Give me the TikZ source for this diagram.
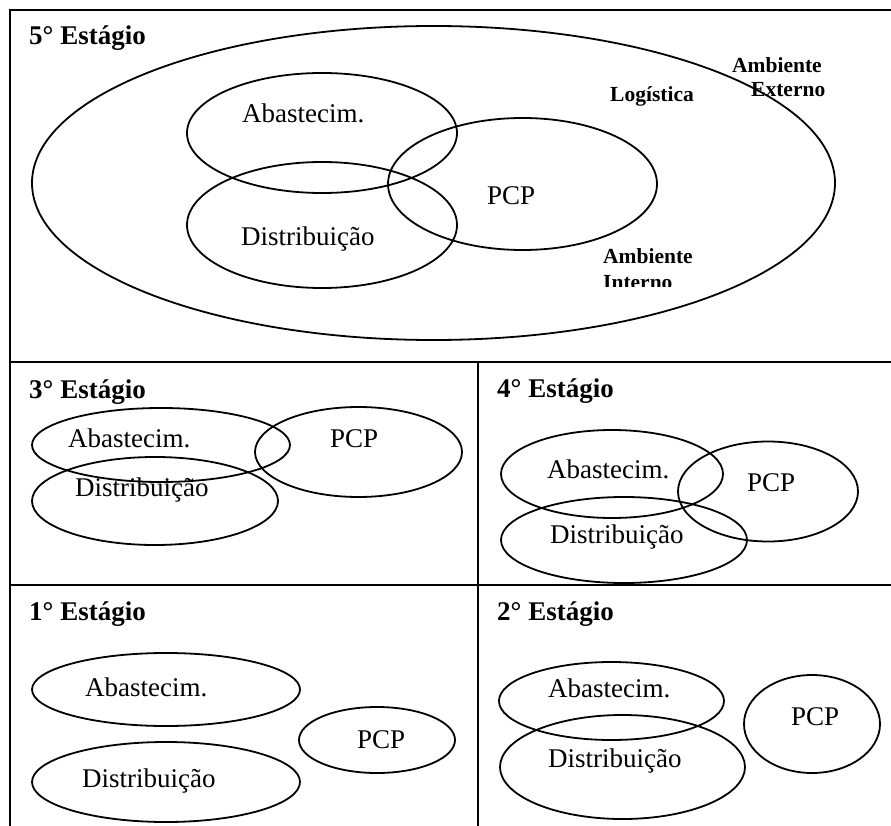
\documentclass[tikz,border=0pt]{standalone}
\usepackage{fontspec}
\setmainfont{Liberation Serif}
\usetikzlibrary{shapes.geometric}
\tikzset{
  ell/.style={ellipse, draw, line width=1.8pt, inner sep=0pt, outer sep=0pt},
  txt/.style={anchor=base west, inner sep=0pt, font=\fontsize{27}{30}\selectfont},
  head/.style={anchor=base west, inner sep=0pt, font=\fontsize{27}{30}\selectfont\bfseries},
  lab/.style={anchor=base west, inner sep=0pt, font=\fontsize{21.5}{24}\selectfont\bfseries},
  frame/.style={line width=2pt}
}
\newcommand{\ellnode}[5]{\node[ell, minimum width=#4pt, minimum height=#5pt] (#1) at (#2,#3) {};}
\begin{document}
\begin{tikzpicture}[x=1pt,y=-1pt]
\useasboundingbox (0,0) rectangle (891,826);
% frame
\coordinate (tl) at (10,10);
\coordinate (tr) at (891,10);
\coordinate (bl) at (10,826);
\coordinate (m1l) at (10,362);
\coordinate (m1r) at (891,362);
\coordinate (m2l) at (10,585);
\coordinate (m2r) at (891,585);
\coordinate (vt) at (478,362);
\coordinate (vb) at (478,826);
\draw[frame] (tr) -- (tl) -- (bl);
\draw[frame] (m1l) -- (m1r);
\draw[frame] (m2l) -- (m2r);
\draw[frame] (vt) -- (vb);

% ---- 5th stage
\node[head] (h5) at (29,45) {5° Estágio};
\ellnode{outer}{433.5}{183}{803}{314}
\ellnode{abs5}{322}{133}{270}{120}
\ellnode{dis5}{322}{225}{270}{126}
\ellnode{pcp5}{522.5}{184}{269}{132}
\node[txt] (tabs5) at (242,123) {Abastecim.};
\node[txt] (tdis5) at (241,246) {Distribuição};
\node[txt] (tpcp5) at (487,205) {PCP};
\node[lab] (log) at (610,102) {Logística};
\node[lab] (ae1) at (732,73) {Ambiente};
\node[lab] (ae2) at (751,97) {Externo};
\node[lab] (ai1) at (603,264) {Ambiente};
\begin{scope}
\clip (0,0) rectangle (891,286);
\node[lab] (ai2) at (603,289) {Interno};
\end{scope}

% ---- 3rd stage
\node[head] (h3) at (29,398) {3° Estágio};
\ellnode{abs3}{161}{445}{258}{74}
\ellnode{pcp3}{358.5}{452}{207}{90}
\ellnode{dis3}{155}{501}{246}{88}
\node[txt] (tabs3) at (68,447) {Abastecim.};
\node[txt] (tpcp3) at (330,447) {PCP};
\node[txt] (tdis3) at (75,496) {Distribuição};

% ---- 4th stage
\node[head] (h4) at (497,397) {4° Estágio};
\ellnode{abs4}{612}{474}{222}{88}
\ellnode{dis4}{624}{540}{246}{86}
\ellnode{pcp4}{768}{491.5}{180}{100}
\node[txt] (tabs4) at (547,478) {Abastecim.};
\node[txt] (tdis4) at (550,543) {Distribuição};
\node[txt] (tpcp4) at (747,491) {PCP};

% ---- 1st stage
\node[head] (h1) at (29,620) {1° Estágio};
\ellnode{abs1}{166}{689.5}{268}{73}
\ellnode{dis1}{166}{782}{268}{80}
\ellnode{pcp1}{377}{740}{156}{66}
\node[txt] (tabs1) at (85,696) {Abastecim.};
\node[txt] (tdis1) at (82,787) {Distribuição};
\node[txt] (tpcp1) at (357,748) {PCP};

% ---- 2nd stage
\node[head] (h2) at (497,620) {2° Estágio};
\ellnode{abs2}{611.5}{701}{225}{78}
\ellnode{dis2}{622.5}{767}{245}{104}
\ellnode{pcp2}{812}{724}{136}{98}
\node[txt] (tabs2) at (548,697) {Abastecim.};
\node[txt] (tdis2) at (548,767) {Distribuição};
\node[txt] (tpcp2) at (791,725) {PCP};
\end{tikzpicture}
\end{document}
